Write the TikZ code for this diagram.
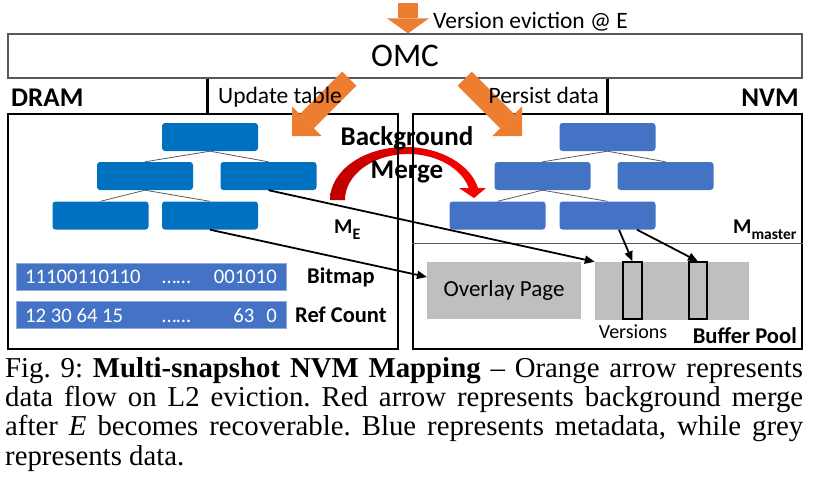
\documentclass[tikz,border=0pt]{standalone}
\usepackage{fontspec}
\setmainfont{Liberation Serif}
\newfontfamily\calib{Carlito}
\usetikzlibrary{arrows.meta}
\definecolor{dramblue}{HTML}{0070C0}
\definecolor{nvmblue}{HTML}{4472C4}
\definecolor{evict}{HTML}{ED7D31}
\definecolor{datagrey}{HTML}{BFBFBF}
\definecolor{edgegrey}{HTML}{595959}
\newcommand{\setsz}[1]{\fontsize{#1}{#1}\selectfont}

\begin{document}
\begin{tikzpicture}[x=1pt,y=-1pt]
	\tikzstyle{every node}=[inner sep=0pt, font=\calib]
	\tikzstyle{dblk}=[fill=dramblue, rounded corners=3pt, minimum width=96pt, minimum height=28pt]
	\tikzstyle{nblk}=[dblk, fill=nvmblue]
	\tikzstyle{bitbar}=[fill=nvmblue, draw=nvmblue!60!white, line width=1pt, minimum width=270pt, minimum height=27pt]
	\tikzstyle{bartxt}=[text=white, font=\calib\setsz{20.7}]
	\tikzstyle{datablk}=[fill=datagrey, minimum height=57pt]
	\tikzstyle{branch}=[draw=edgegrey, line width=0.8pt]
	\tikzstyle{ptr}=[line width=1.8pt, -{Triangle[length=10pt,width=8pt]}]
	\tikzstyle{orangearrow}=[draw=evict, line width=20pt, -{Triangle[length=21pt,width=42pt,line width=0pt]}]
	\useasboundingbox (0,0) rectangle (815,483);

	% background merge arc
	\shade[left color=red!75!black, right color=red]
		(330,200) arc[start angle=180, end angle=347, x radius=75, y radius=53]
		-- (486,188) -- (474,198) -- (459,188) -- (468.8,188)
		arc[start angle=344.88, end angle=180, x radius=63, y radius=46] -- cycle;

	% OMC and the two memories
	\node[draw=edgegrey, line width=1.3pt, minimum width=794pt, minimum height=44pt, font=\calib\setsz{33}] (omc) at (405,56) {OMC};
	\node[draw, line width=1.2pt, minimum width=390pt, minimum height=235pt] (dram) at (203,231.5) {};
	\node[draw, line width=1.2pt, minimum width=389pt, minimum height=235pt] (nvm) at (607.5,231.5) {};
	\coordinate (sep) at (0,243);
	\draw[edgegrey, line width=1pt] (nvm.west |- sep) -- (nvm.east |- sep);
	\coordinate (cut1) at (207,0);
	\coordinate (cut2) at (607,0);
	\draw[line width=3pt] (omc.south -| cut1) -- (dram.north -| cut1);
	\draw[line width=3pt] (omc.south -| cut2) -- (nvm.north -| cut2);

	% DRAM tree
	\node[dblk] (d0) at (210,137) {};
	\node[dblk] (d1) at (145,176) {};
	\node[dblk] (d2) at (268.5,176) {};
	\node[dblk] (d3) at (100.5,215.5) {};
	\node[dblk] (d4) at (210,215.5) {};
	\draw[branch] (d0.south) -- (d1.north) (d0.south) -- (d2.north) (d1.south) -- (d3.north) (d1.south) -- (d4.north);

	% NVM tree
	\node[nblk] (n0) at (607.5,137) {};
	\node[nblk] (n1) at (542.5,176) {};
	\node[nblk] (n2) at (665.5,176) {};
	\node[nblk] (n3) at (497.5,215.5) {};
	\node[nblk] (n4) at (607.5,215.5) {};
	\draw[branch] (n0.south) -- (n1.north) (n0.south) -- (n2.north) (n1.south) -- (n3.north) (n1.south) -- (n4.north);

	\node[anchor=base west, font=\calib\bfseries\setsz{21}] (me) at (334,233) {M\raisebox{-6pt}{\setsz{16}E}};
	\node[anchor=base west, font=\calib\bfseries\setsz{21}] (mmaster) at (733,233) {M\raisebox{-6pt}{\setsz{15.5}master}};

	% bitmap and ref count
	\node[bitbar] (bitmap) at (151,276.5) {};
	\node[bitbar] (refcnt) at (151,314.5) {};
	\node[bartxt, anchor=base west] (b1) at (25,283) {11100110110};
	\node[bartxt, anchor=base west] (b2) at (162,283) {……};
	\node[bartxt, anchor=base east] (b3) at (277,283) {001010};
	\node[bartxt, anchor=base west] (r1) at (25,322) {12 30 64 15};
	\node[bartxt, anchor=base west] (r2) at (162,322) {……};
	\node[bartxt, anchor=base east] (r3) at (277,322) {63\hspace{12pt}0};
	\node[anchor=base west, font=\calib\bfseries\setsz{22.5}] (bml) at (307,283) {Bitmap};
	\node[anchor=base west, font=\calib\bfseries\setsz{22.5}] (rcl) at (295,322) {Ref Count};

	% data in NVM
	\node[datablk, minimum width=154pt, font=\calib\setsz{23}] (ov) at (504,290.5) {Overlay Page};
	\node[datablk, minimum width=154pt, minimum height=58pt] (bp) at (672,291) {};
	\node[datablk, draw, line width=1.3pt, minimum width=19pt] (ver1) at (632.5,290.5) {};
	\node[datablk, draw, line width=1.3pt, minimum width=18pt] (ver2) at (698,290.5) {};
	\node[anchor=base, font=\calib\setsz{20}] (verl) at (633,338) {Versions};
	\node[anchor=base east, font=\calib\bfseries\setsz{22.6}] (bpl) at (797,343) {Buffer Pool};

	% pointers
	\coordinate (ovin) at (427,277);
	\draw[ptr] (d2.south) -- (bp.north west);
	\draw[ptr] (d4.south) -- (ovin);
	\draw[ptr] ([xshift=11.5pt]n4.south) -- (ver1.north);
	\draw[ptr] ([xshift=29.5pt]n4.south) -- (ver2.north);

	% eviction flow
	\coordinate (evtail) at (408,3);
	\coordinate (updtail) at (349.3,78.7);
	\coordinate (updtip) at (292,136);
	\coordinate (pertail) at (464.7,78.7);
	\coordinate (pertip) at (522,136);
	\draw[evict, line width=20pt, -{Triangle[length=15pt,width=42pt,line width=0pt]}] (evtail) -- (omc.north -| evtail);
	\draw[orangearrow] (updtail) -- (updtip);
	\draw[orangearrow] (pertail) -- (pertip);

	\node[anchor=base west, font=\calib\bfseries\setsz{27}] (dramlbl) at (11,106) {DRAM};
	\node[anchor=base east, font=\calib\bfseries\setsz{27}] (nvmlbl) at (799,106) {NVM};
	\node[anchor=base west, font=\calib\setsz{23.5}] (upd) at (218,103) {Update table};
	\node[anchor=base east, font=\calib\setsz{23.5}] (per) at (599,103) {Persist data};
	\node[anchor=base west, font=\calib\setsz{23.5}] (evl) at (433,28) {Version eviction @ E};
	\node[anchor=base, font=\calib\bfseries\setsz{27}] (bg) at (407,145) {Background};
	\node[anchor=base, font=\calib\bfseries\setsz{27}] (mg) at (407,178) {Merge};

	% caption
	\node[anchor=base west, text width=798pt, align=justify, font=\rmfamily\fontsize{28.8}{29.4}\selectfont\frenchspacing] (cap) at (5,377)
		{Fig. 9: \textbf{Multi-snapshot NVM Mapping} -- Orange arrow represents\linebreak
		data flow on L2 eviction. Red arrow represents background merge\linebreak
		after \textit{E} becomes recoverable. Blue represents metadata, while grey\linebreak
		represents data.};
\end{tikzpicture}
\end{document}
